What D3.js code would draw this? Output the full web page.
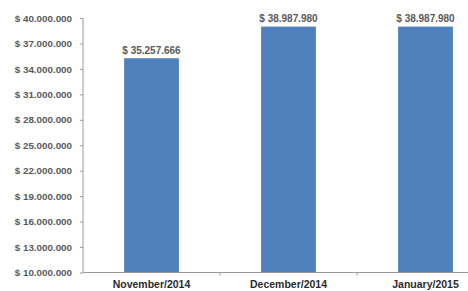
<!DOCTYPE html>
<meta charset="utf-8">
<head>
    <title>Monthly Totals</title>
    <script type="text/javascript" src="https://d3js.org/d3.v7.min.js"></script>
    <style>
        html, body { margin: 0; padding: 0; background: white; overflow: hidden; }
        text { font-family: "Liberation Sans", Arial, sans-serif; font-weight: bold; }
    </style>
</head>
<body>
    <div id="chart"></div>
    <script>
        // chart data
        var months = ["November/2014", "December/2014", "January/2015"];
        var totals = [35257666, 38987980, 38987980];
        var valueLabels = ["$ 35.257.666", "$ 38.987.980", "$ 38.987.980"];
        var yTicks = [10000000, 13000000, 16000000, 19000000, 22000000, 25000000, 28000000, 31000000, 34000000, 37000000, 40000000];

        var width = 468, height = 291;
        var plotLeft = 83, plotTop = 18, plotBottom = 272.5, plotRight = 494;

        var svg = d3.select("#chart").append("svg")
            .attr("width", width)
            .attr("height", height)
            .style("display", "block");

        var y = d3.scaleLinear().domain([10000000, 40000000]).range([plotBottom, plotTop]);
        var x = d3.scaleBand().domain(months).range([plotLeft, plotRight])
            .paddingInner(0.6).paddingOuter(0.3);

        // thousands with dots
        var fmt = function(v) {
            return "$ " + d3.format(",")(v).replace(/,/g, ".");
        };

        // y axis
        var yAxis = svg.append("g")
            .attr("transform", "translate(" + plotLeft + ",0)")
            .call(d3.axisLeft(y).tickValues(yTicks).tickSize(3).tickPadding(8).tickFormat(fmt));
        yAxis.select(".domain").attr("stroke", "#9a9a9a").attr("d", "M0," + plotTop + "V" + plotBottom);
        yAxis.selectAll(".tick line").attr("stroke", "#9a9a9a");
        yAxis.selectAll(".tick text")
            .attr("fill", "#595959")
            .style("font-size", "9.8px");

        // bars
        svg.selectAll("rect.bar")
            .data(totals)
            .enter()
            .append("rect")
            .attr("class", "bar")
            .attr("x", function(d, i) { return x(months[i]); })
            .attr("y", function(d) { return y(d); })
            .attr("width", x.bandwidth())
            .attr("height", function(d) { return plotBottom - y(d); })
            .attr("fill", "#4f81bd");

        // value labels
        svg.selectAll("text.val")
            .data(totals)
            .enter()
            .append("text")
            .attr("class", "val")
            .attr("x", function(d, i) { return x(months[i]) + x.bandwidth() / 2; })
            .attr("y", function(d) { return y(d) - 4.5; })
            .attr("text-anchor", "middle")
            .attr("fill", "#595959")
            .style("font-size", "10px")
            .text(function(d, i) { return valueLabels[i]; });

        // x axis line and category separators
        var xAxis = svg.append("g").attr("transform", "translate(0," + plotBottom + ")");
        xAxis.append("line")
            .attr("x1", plotLeft).attr("x2", width)
            .attr("stroke", "#9a9a9a");
        xAxis.selectAll("line.sep")
            .data(months.slice(1))
            .enter()
            .append("line")
            .attr("class", "sep")
            .attr("x1", function(d) { return x(d) - x.step() * 0.3; })
            .attr("x2", function(d) { return x(d) - x.step() * 0.3; })
            .attr("y1", 0).attr("y2", 3)
            .attr("stroke", "#9a9a9a");
        xAxis.selectAll("text.cat")
            .data(months)
            .enter()
            .append("text")
            .attr("class", "cat")
            .attr("x", function(d) { return x(d) + x.bandwidth() / 2; })
            .attr("y", 15.8)
            .attr("text-anchor", "middle")
            .attr("fill", "#2b2b2b")
            .style("font-size", "10.5px")
            .text(function(d) { return d; });
    </script>
</body>
</html>
